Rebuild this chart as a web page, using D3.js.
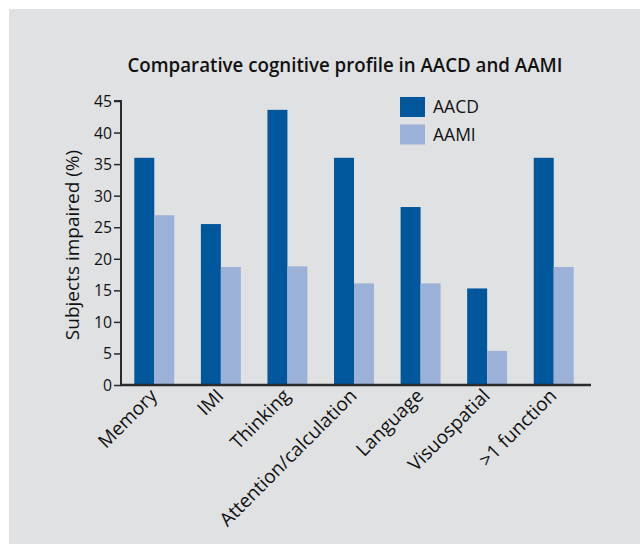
<!DOCTYPE html>
<html>
<head>
<meta charset="utf-8">
<script src="https://cdn.jsdelivr.net/npm/d3@7/dist/d3.min.js"></script>
<style>
  html, body { margin: 0; padding: 0; background: #ffffff; }
  svg { display: block; }
  text { font-family: "Open Sans", "Noto Sans", sans-serif; fill: #111; }
</style>
</head>
<body>
<svg id="chart" width="640" height="544"></svg>
<script>
const categories = ["Memory", "IMI", "Thinking", "Attention/calculation", "Language", "Visuospatial", ">1 function"];
const seriesNames = ["AACD", "AAMI"];
const aacdValues = [36, 25.5, 43.6, 36, 28.2, 15.3, 36];
const aamiValues = [26.9, 18.7, 18.8, 16.1, 16.1, 5.4, 18.7];
const yTicks = [0, 5, 10, 15, 20, 25, 30, 35, 40, 45];
const titleText = "Comparative cognitive profile in AACD and AAMI";
const yAxisLabel = "Subjects impaired (%)";
const colors = ["#00579b", "#9cb1d7"];

const svg = d3.select("#chart");

// background panel
svg.append("rect").attr("x", 9).attr("y", 9).attr("width", 631).attr("height", 535).attr("fill", "#e0e1e3");

const x0 = 121, x1 = 587, yTop = 101, yBottom = 385;

const x = d3.scaleBand().domain(categories).range([x0, x1]).paddingInner(0.4).paddingOuter(0.2);
const xSub = d3.scaleBand().domain(seriesNames).range([0, x.bandwidth()]);
const y = d3.scaleLinear().domain([0, 45]).range([yBottom, yTop]);

const data = categories.map((c, i) => ({ cat: c, vals: [aacdValues[i], aamiValues[i]] }));

// bars
const g = svg.append("g");
g.selectAll("g.grp").data(data).join("g")
  .attr("class", "grp")
  .attr("transform", d => `translate(${x(d.cat)},0)`)
  .selectAll("rect").data(d => d.vals.map((v, k) => ({ k, v })))
  .join("rect")
  .attr("x", d => xSub(seriesNames[d.k]))
  .attr("width", xSub.bandwidth())
  .attr("y", d => y(d.v))
  .attr("height", d => y(0) - y(d.v))
  .attr("fill", d => colors[d.k]);

// y axis
const yAxis = d3.axisLeft(y).tickValues(yTicks).tickSize(7).tickPadding(2);
const yg = svg.append("g").attr("transform", `translate(${x0},0)`).call(yAxis);
yg.select(".domain").attr("stroke", "#2a2a2a").attr("stroke-width", 2).attr("d", `M-7,${yTop}H0V${yBottom}`);
yg.selectAll(".tick line").attr("stroke", "#2a2a2a").attr("stroke-width", 1.5);
yg.selectAll(".tick text").attr("font-size", 17).attr("font-family", "Open Sans").attr("fill", "#111")
  .attr("textLength", d => String(d).length * 9).attr("lengthAdjust", "spacingAndGlyphs");

// x axis line
svg.append("line").attr("x1", x0 - 1).attr("x2", 591).attr("y1", yBottom).attr("y2", yBottom)
  .attr("stroke", "#2a2a2a").attr("stroke-width", 2.5);

// x labels
svg.append("g").selectAll("text").data(categories).join("text")
  .attr("transform", d => `translate(${x(d) + x.bandwidth() / 2 + 4},${yBottom + 12}) rotate(-45)`)
  .attr("text-anchor", "end")
  .attr("font-size", 19)
  .text(d => d);

// y label
svg.append("text")
  .attr("transform", `translate(79,${(yTop + yBottom) / 2 + 2}) rotate(-90)`)
  .attr("text-anchor", "middle")
  .attr("font-size", 19)
  .text(yAxisLabel);

// title
svg.append("text")
  .attr("x", 345).attr("y", 72)
  .attr("text-anchor", "middle")
  .attr("font-size", 20)
  .attr("font-weight", 600)
  .attr("textLength", 435)
  .attr("lengthAdjust", "spacingAndGlyphs")
  .text(titleText);

// legend
const lg = svg.append("g").selectAll("g").data(seriesNames).join("g")
  .attr("transform", (d, i) => `translate(400,${97 + i * 27.5})`);
lg.append("rect").attr("width", 25).attr("height", 20).attr("fill", (d, i) => colors[i]);
lg.append("text").attr("x", 33).attr("y", 16).attr("font-size", 17.5).text(d => d);
</script>
</body>
</html>
